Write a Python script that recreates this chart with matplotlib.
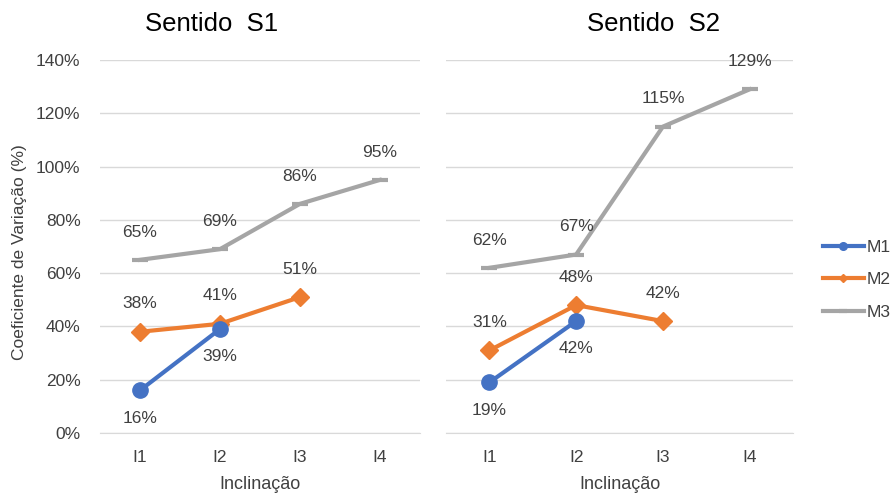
import matplotlib.pyplot as plt

plt.rcParams['font.family'] = ['Liberation Sans', 'DejaVu Sans']

# Dados
inclinacao = ['I1', 'I2', 'I3', 'I4']
s1_m1 = [16, 39]
s1_m2 = [38, 41, 51]
s1_m3 = [65, 69, 86, 95]
s2_m1 = [19, 42]
s2_m2 = [31, 48, 42]
s2_m3 = [62, 67, 115, 129]

cores = {'M1': '#4472C4', 'M2': '#ED7D31', 'M3': '#A5A5A5'}
texto = '#404040'

fig = plt.figure(figsize=(8.96, 4.98), dpi=100)
ax1 = fig.add_axes([0.1116, 0.1305, 0.357, 0.749])
ax2 = fig.add_axes([0.4978, 0.1305, 0.3873, 0.749])


def desenhar(ax, m1, m2, m3):
    x = list(range(len(inclinacao)))
    ax.plot(x[:len(m3)], m3, color=cores['M3'], lw=3, marker='_', ms=12,
            mew=3, label='M3', zorder=3)
    ax.plot(x[:len(m2)], m2, color=cores['M2'], lw=3, marker='D', ms=9,
            label='M2', zorder=4)
    ax.plot(x[:len(m1)], m1, color=cores['M1'], lw=3, marker='o', ms=11,
            label='M1', zorder=5)
    for serie, pos in ((m3, 1), (m2, 1), (m1, -1)):
        for i, v in enumerate(serie):
            ax.annotate(f'{v}%', (i, v), xytext=(0, 20 * pos),
                        textcoords='offset points', ha='center', va='center',
                        fontsize=12.5, color=texto)
    ax.set_xlim(-0.5, 3.5)
    ax.set_ylim(0, 140)
    ax.set_yticks(range(0, 141, 20))
    ax.set_xticks(x)
    ax.set_xticklabels(inclinacao, fontsize=12.5, color=texto)
    ax.grid(axis='y', color='#D9D9D9', lw=1)
    ax.set_axisbelow(True)
    for lado in ['top', 'right', 'left']:
        ax.spines[lado].set_visible(False)
    ax.spines['bottom'].set_color('#D9D9D9')
    ax.tick_params(length=0, pad=12)
    ax.set_xlabel('Inclinação', fontsize=13, color=texto, labelpad=8)


desenhar(ax1, s1_m1, s1_m2, s1_m3)
desenhar(ax2, s2_m1, s2_m2, s2_m3)

ax1.set_yticklabels([f'{v}%' for v in range(0, 141, 20)], fontsize=12.5,
                    color=texto)
ax1.tick_params(axis='y', pad=14)
ax2.set_yticklabels([])

fig.text(0.022, 0.494, 'Coeficiente de Variação (%)', rotation=90,
         ha='center', va='center', fontsize=12.5, color=texto)
fig.text(0.236, 0.952, 'Sentido  S1', ha='center', va='center',
         fontsize=18.5, color='black')
fig.text(0.729, 0.952, 'Sentido  S2', ha='center', va='center',
         fontsize=18.5, color='black')

handles, labels = ax2.get_legend_handles_labels()
ordem = [2, 1, 0]
leg = fig.legend([handles[i] for i in ordem], [labels[i] for i in ordem],
                 loc='center left', bbox_to_anchor=(0.918, 0.438),
                 frameon=False, fontsize=12.5, handlelength=2.4,
                 handletextpad=0.15, labelspacing=1.0, markerscale=0.5,
                 borderpad=0, borderaxespad=0)
for t in leg.get_texts():
    t.set_color(texto)

plt.savefig('out.png', dpi=100)
